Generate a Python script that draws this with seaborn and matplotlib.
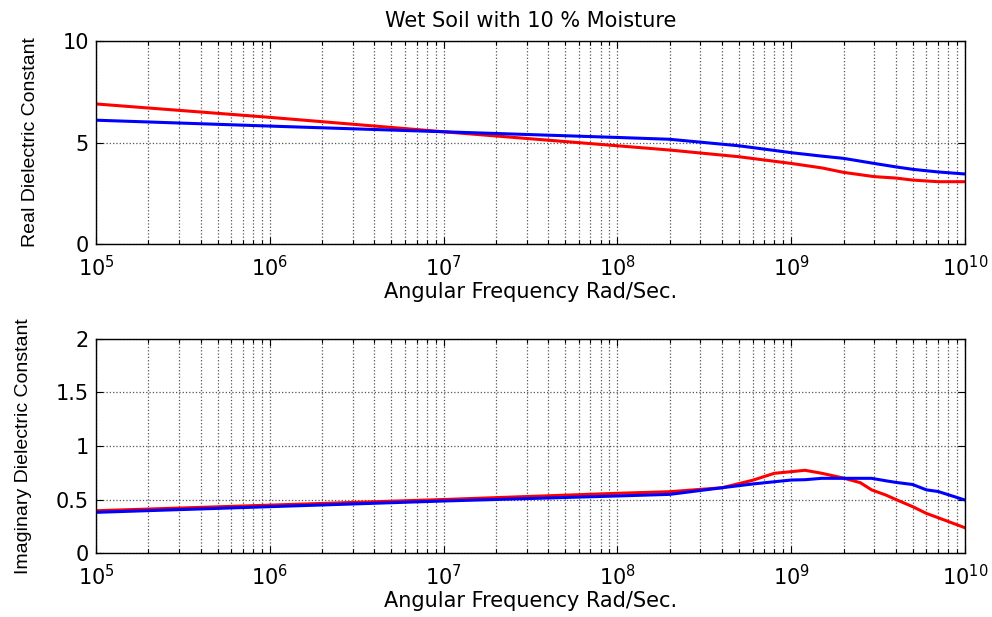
import matplotlib
matplotlib.use("Agg")
import matplotlib.pyplot as plt
import seaborn as sns
import pandas as pd
import numpy as np
from matplotlib.ticker import LogLocator, NullFormatter, LogFormatterMathtext

# ---- data ----
freq_real = [1e5, 1e6, 1e7, 1e8, 2e8, 5e8, 1e9, 1.5e9, 2e9, 3e9, 4e9, 5e9, 7e9, 1e10]
real_red  = [6.9, 6.24, 5.53, 4.84, 4.63, 4.30, 3.97, 3.75, 3.53, 3.32, 3.25, 3.15, 3.07, 3.07]
real_blue = [6.1, 5.81, 5.53, 5.25, 5.16, 4.84, 4.50, 4.33, 4.22, 3.97, 3.80, 3.68, 3.55, 3.45]

freq_imag = [1e5, 1e7, 1e8, 2e8, 4e8, 6e8, 8e8, 1e9, 1.2e9, 1.5e9, 2e9, 2.5e9, 2.9e9,
             3.5e9, 4e9, 5e9, 6e9, 7e9, 1e10]
imag_red  = [0.395, 0.50, 0.558, 0.573, 0.61, 0.68, 0.745, 0.76, 0.773, 0.745, 0.70,
             0.657, 0.59, 0.542, 0.50, 0.433, 0.37, 0.33, 0.236]
imag_blue = [0.38, 0.486, 0.533, 0.548, 0.61, 0.645, 0.666, 0.682, 0.685, 0.698, 0.698,
             0.698, 0.698, 0.675, 0.66, 0.64, 0.59, 0.575, 0.495]

title = "Wet Soil with 10 % Moisture"
xlabel = "Angular Frequency Rad/Sec."
ylabel_top = "Real Dielectric Constant"
ylabel_bot = "Imaginary Dielectric Constant"

sns.set_style("white")
plt.rcParams['font.family'] = ['DejaVu Sans']
plt.rcParams['mathtext.fontset'] = 'dejavusans'
for k in ['text.color', 'axes.labelcolor', 'xtick.color', 'ytick.color']:
    plt.rcParams[k] = 'black'

fig = plt.figure(figsize=(9.92, 6.17), dpi=100)
ax1 = fig.add_axes([0.0968, 0.6045, 0.8760, 0.3290])
ax2 = fig.add_axes([0.0968, 0.1037, 0.8760, 0.3469])

df_r = pd.DataFrame({"f": freq_real * 2, "v": real_red + real_blue,
                     "s": ["red"] * len(freq_real) + ["blue"] * len(freq_real)})
df_i = pd.DataFrame({"f": freq_imag * 2, "v": imag_red + imag_blue,
                     "s": ["red"] * len(freq_imag) + ["blue"] * len(freq_imag)})

pal = {"red": "#ff0000", "blue": "#0000ff"}
sns.lineplot(data=df_r, x="f", y="v", hue="s", palette=pal, ax=ax1, lw=2.2, legend=False,
             estimator=None, sort=True)
sns.lineplot(data=df_i, x="f", y="v", hue="s", palette=pal, ax=ax2, lw=2.2, legend=False,
             estimator=None, sort=True)

ylab_font = dict(family=['Liberation Sans', 'DejaVu Sans'], fontsize=14, color='black')

for ax, ylim, yticks, ylab, lx in [(ax1, (0, 10), [0, 5, 10], ylabel_top, -0.066),
                                   (ax2, (0, 2), [0, 0.5, 1, 1.5, 2], ylabel_bot, -0.074)]:
    ax.set_xscale("log")
    ax.set_xlim(1e5, 1e10)
    ax.set_ylim(*ylim)
    ax.set_yticks(yticks)
    ax.set_yticklabels([("%g" % t) for t in yticks])
    ax.xaxis.set_major_locator(LogLocator(base=10, numticks=10))
    ax.xaxis.set_minor_locator(LogLocator(base=10, subs=np.arange(2, 10), numticks=100))
    ax.xaxis.set_minor_formatter(NullFormatter())
    ax.xaxis.set_major_formatter(LogFormatterMathtext())
    ax.grid(True, which="major", axis="both", color="#555555", linestyle=":", linewidth=0.9)
    ax.grid(True, which="minor", axis="x", color="#555555", linestyle=":", linewidth=0.9)
    ax.tick_params(which="both", direction="in", top=True, right=True, bottom=True, left=True,
                   labelsize=15, color="black", labelcolor="black")
    ax.tick_params(which="major", length=5, width=0.8)
    ax.tick_params(which="minor", length=3, width=0.8)
    ax.tick_params(axis="x", which="both", pad=8)
    ax.tick_params(axis="y", which="both", pad=5)
    for sp in ax.spines.values():
        sp.set_color("black")
        sp.set_linewidth(1.0)
    ax.set_xlabel(xlabel, fontsize=15, labelpad=1, color='black')
    ax.set_ylabel(ylab, **ylab_font)
    ax.yaxis.set_label_coords(lx, 0.5)

ax1.set_title(title, fontsize=15, pad=10, color='black')

fig.savefig("out.png", dpi=100)
